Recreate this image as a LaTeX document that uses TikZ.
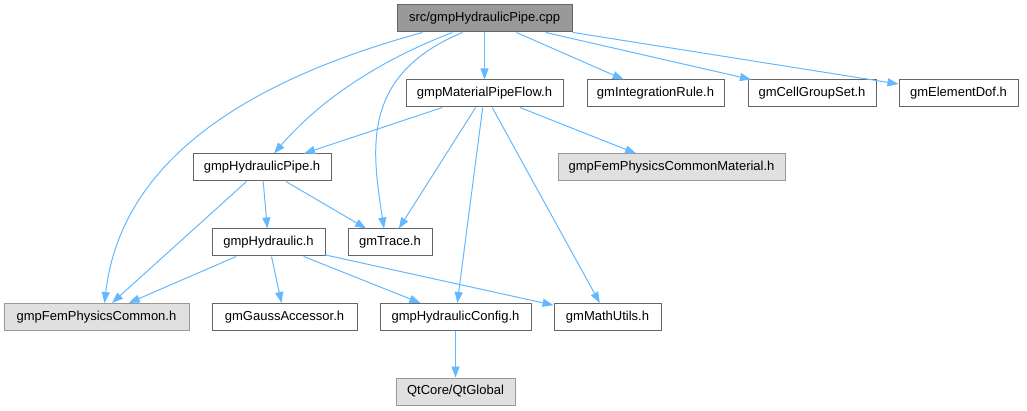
\documentclass[tikz,border=0pt]{standalone}
\usepackage{fontspec}
\setmainfont{Liberation Sans}
\usetikzlibrary{arrows.meta}
\definecolor{edgeblue}{HTML}{63B8FF}
\definecolor{boxline}{HTML}{666666}
\definecolor{extline}{HTML}{999999}
\definecolor{extfill}{HTML}{E0E0E0}
\definecolor{rootfill}{HTML}{999999}
\begin{document}
\begin{tikzpicture}[x=1pt,y=-1pt,>={Triangle[length=11pt,width=8pt]},
  box/.style={draw=boxline,fill=white,line width=1pt,minimum height=27pt,inner sep=0pt,font=\fontsize{13}{15}\selectfont},
  ext/.style={box,draw=extline,fill=extfill},
  dep/.style={->,draw=edgeblue,fill=none,line width=1pt}]
\useasboundingbox (0,0) rectangle (1027,411);
% files
\node[box,fill=rootfill,minimum width=175] (cpp) at (484.5,18.5) {src/gmpHydraulicPipe.cpp};
\node[box,minimum width=157] (flow) at (484.5,93.5) {gmpMaterialPipeFlow.h};
\node[box,minimum width=137] (rule) at (655.5,93.5) {gmIntegrationRule.h};
\node[box,minimum width=128] (cellset) at (812,93.5) {gmCellGroupSet.h};
\node[box,minimum width=119] (dof) at (958.5,93.5) {gmElementDof.h};
\node[box,minimum width=138] (hpipe) at (262,167.5) {gmpHydraulicPipe.h};
\node[ext,minimum width=227] (material) at (671.5,167.5) {gmpFemPhysicsCommonMaterial.h};
\node[box,minimum width=113] (hydraulic) at (268.5,242.5) {gmpHydraulic.h};
\node[box,minimum width=84] (trace) at (390,242.5) {gmTrace.h};
\node[ext,minimum width=185] (femcommon) at (96.5,317) {gmpFemPhysicsCommon.h};
\node[box,minimum width=145] (gauss) at (284.5,317) {gmGaussAccessor.h};
\node[box,minimum width=151] (config) at (455.5,317) {gmpHydraulicConfig.h};
\node[box,minimum width=107] (mathutils) at (607.5,317) {gmMathUtils.h};
\node[ext,minimum width=119] (qtglobal) at (455.5,391.5) {QtCore/QtGlobal};
% includes
\draw[dep](cpp)--(flow);
\draw[dep](cpp)--(rule);
\draw[dep](cpp)--(cellset);
\draw[dep](cpp)--(dof);
\draw[dep]([xshift=-32pt]cpp.south) .. controls (380,60) and (320,100) .. ([xshift=12pt]hpipe.north);
\draw[dep]([xshift=-22pt]cpp.south) .. controls (360,75) and (372,150) .. ([xshift=-6pt]trace.north);
\draw[dep]([xshift=-62pt]cpp.south) .. controls (230,85) and (120,170) .. ([xshift=8pt]femcommon.north);
\draw[dep](flow)--(hpipe);
\draw[dep](flow)--(material);
\draw[dep](flow)--(trace);
\draw[dep](flow)--(config);
\draw[dep](flow)--(mathutils);
\draw[dep](hpipe)--(hydraulic);
\draw[dep](hpipe)--(trace);
\draw[dep](hpipe)--(femcommon);
\draw[dep](hydraulic)--(femcommon);
\draw[dep](hydraulic)--(gauss);
\draw[dep](hydraulic)--(config);
\draw[dep](hydraulic)--(mathutils);
\draw[dep](config)--(qtglobal);
\end{tikzpicture}
\end{document}
